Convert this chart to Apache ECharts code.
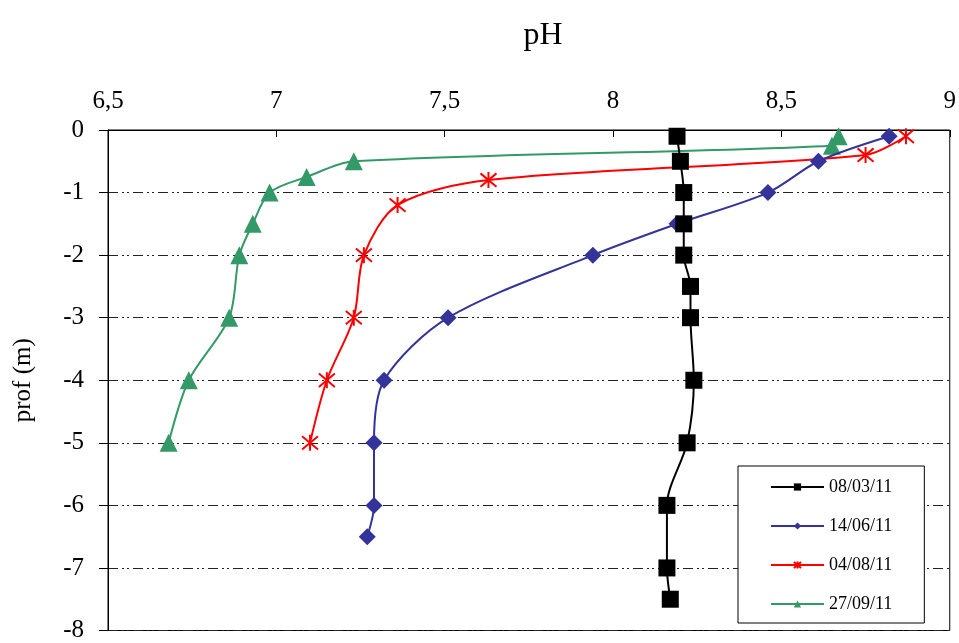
<!DOCTYPE html>
<html>
<head>
<meta charset="utf-8">
<script src="https://cdn.jsdelivr.net/npm/echarts@6/dist/echarts.min.js"></script>
<style>html,body{margin:0;padding:0;background:#fff;}#c{width:959px;height:643px;}</style>
</head>
<body>
<div id="c"></div>
<script>
// Depth profiles of pH: [pH, depth (m)]
var seriesNames = ['08/03/11', '14/06/11', '04/08/11', '27/09/11'];

var depth0803 = [-0.1, -0.5, -1, -1.5, -2, -2.5, -3, -4, -5, -6, -7, -7.5];
var ph0803    = [8.19, 8.20, 8.21, 8.21, 8.21, 8.23, 8.23, 8.24, 8.22, 8.16, 8.16, 8.17];

var depth1406 = [-0.1, -0.5, -1, -1.5, -2, -3, -4, -5, -6, -6.5];
var ph1406    = [8.82, 8.61, 8.46, 8.19, 7.94, 7.51, 7.32, 7.29, 7.29, 7.27];

var depth0408 = [-0.1, -0.4, -0.8, -1.2, -2, -3, -4, -5];
var ph0408    = [8.87, 8.75, 7.63, 7.36, 7.26, 7.23, 7.15, 7.10];

var depth2709 = [-0.1, -0.25, -0.5, -0.75, -1, -1.5, -2, -3, -4, -5];
var ph2709    = [8.67, 8.65, 7.23, 7.09, 6.98, 6.93, 6.89, 6.86, 6.74, 6.68];

var xTickLabels = {6.5: '6,5', 7: '7', 7.5: '7,5', 8: '8', 8.5: '8,5', 9: '9'};

function pairs(xs, ys) { return xs.map(function (x, i) { return [x, ys[i]]; }); }

var FONT = '"Liberation Serif", "DejaVu Serif", serif';
var asterisk = 'path://M0,0 L10,10 M10,0 L0,10 M5,-1 L5,11';

var chart = echarts.init(document.getElementById('c'), null, {renderer: 'canvas'});
chart.setOption({
  backgroundColor: '#fff',
  animation: false,
  title: {
    text: 'pH', left: 538, top: 15, textAlign: 'center',
    textStyle: {fontFamily: FONT, fontSize: 32, fontWeight: 'normal', color: '#000'}
  },
  grid: {left: 108, right: 6, top: 130, bottom: 10, show: true, borderColor: '#000', borderWidth: 1},
  legend: {
    orient: 'vertical', left: 738, top: 466,
    padding: [12, 32, 10, 32],
    itemWidth: 53, itemHeight: 9, itemGap: 21,
    backgroundColor: '#fff', borderColor: '#000', borderWidth: 1,
    textStyle: {fontFamily: FONT, fontSize: 18, color: '#000'},
    data: seriesNames
  },
  xAxis: {
    type: 'value', position: 'top', min: 6.5, max: 9, interval: 0.5,
    axisLine: {show: true, lineStyle: {color: '#000', width: 1}},
    axisTick: {show: true, inside: true, length: 7, lineStyle: {color: '#000'}},
    splitLine: {show: false},
    axisLabel: {
      margin: 16, fontFamily: FONT, fontSize: 25, color: '#000',
      formatter: function (v) { return xTickLabels[v] !== undefined ? xTickLabels[v] : String(v).replace('.', ','); }
    }
  },
  yAxis: {
    type: 'value', min: -8, max: 0, interval: 1,
    name: 'prof (m)', nameLocation: 'middle', nameGap: 72, nameRotate: 90,
    nameTextStyle: {fontFamily: FONT, fontSize: 25, color: '#000'},
    axisLine: {show: true, lineStyle: {color: '#000', width: 1}},
    axisTick: {show: true, inside: false, length: 9, lineStyle: {color: '#000'}},
    splitLine: {show: true, lineStyle: {color: '#222', width: 1, type: [10, 4, 2, 3, 2, 4]}},
    axisLabel: {margin: 24, fontFamily: FONT, fontSize: 25, color: '#000'}
  },
  series: [
    {
      name: seriesNames[0], type: 'line', smooth: 0.3,
      data: pairs(ph0803, depth0803),
      symbol: 'rect', symbolSize: 17,
      lineStyle: {color: '#000', width: 2},
      itemStyle: {color: '#000'}, z: 4
    },
    {
      name: seriesNames[1], type: 'line', smooth: 0.3,
      data: pairs(ph1406, depth1406),
      symbol: 'diamond', symbolSize: 17,
      lineStyle: {color: '#333399', width: 2},
      itemStyle: {color: '#333399'}, z: 3
    },
    {
      name: seriesNames[2], type: 'line', smooth: 0.3,
      data: pairs(ph0408, depth0408),
      symbol: asterisk, symbolSize: 16,
      lineStyle: {color: '#ff0000', width: 2},
      itemStyle: {color: 'rgba(0,0,0,0)', borderColor: '#ff0000', borderWidth: 2}, z: 2
    },
    {
      name: seriesNames[3], type: 'line', smooth: 0.3,
      data: pairs(ph2709, depth2709),
      symbol: 'triangle', symbolSize: 18,
      lineStyle: {color: '#339966', width: 2},
      itemStyle: {color: '#339966'}, z: 1
    }
  ]
});
</script>
</body>
</html>
